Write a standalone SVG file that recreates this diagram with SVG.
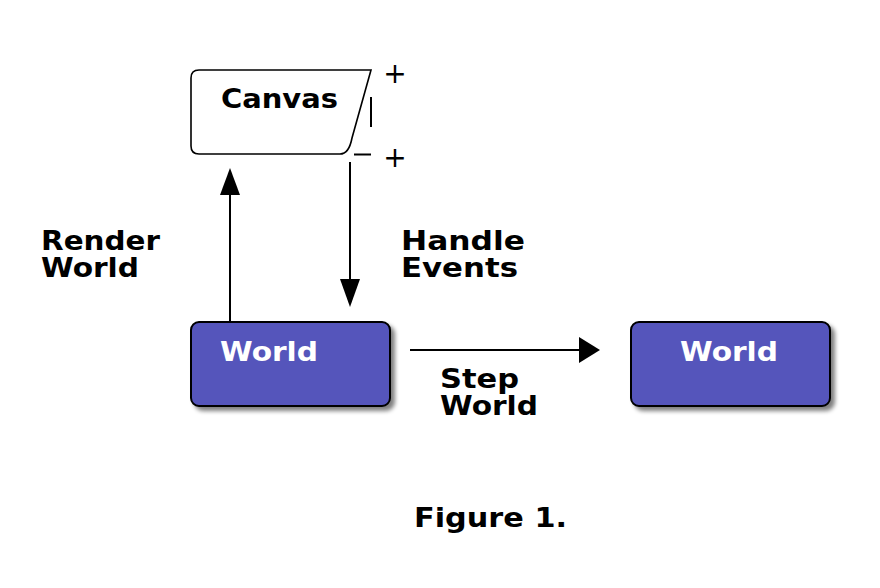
<svg xmlns="http://www.w3.org/2000/svg" width="880" height="588" viewBox="0 0 880 588">
<style>
.lbl{font-family:"DejaVu Sans","Liberation Sans",sans-serif;font-weight:bold;font-size:27px;fill:#000}
.wl{fill:#fff}
.box{fill:#5555bb;stroke:#000;stroke-width:2}
.ln{stroke:#000;stroke-width:2;fill:none}
.pl{font-family:"DejaVu Sans",sans-serif;font-size:28px;fill:#000}
</style>
<defs>
<filter id="sh" x="-10%" y="-20%" width="130%" height="150%">
<feGaussianBlur in="SourceAlpha" stdDeviation="2"/>
<feOffset dx="4" dy="4" result="b"/>
<feComponentTransfer><feFuncA type="linear" slope="0.5"/></feComponentTransfer>
<feMerge><feMergeNode/><feMergeNode in="SourceGraphic"/></feMerge>
</filter>
</defs>
<rect width="880" height="588" fill="#fff"/>
<g id="canvas">
<path d="M199,70 L371,70 L352,138 Q349,154 340,154 L199,154 Q191,154 191,146 L191,78 Q191,70 199,70 Z" fill="#fff" stroke="#000" stroke-width="1.6"/>
<text class="lbl" x="221" y="108" textLength="117" lengthAdjust="spacingAndGlyphs">Canvas</text>
<line class="ln" x1="371" y1="97" x2="371" y2="127"/>
<line class="ln" x1="354" y1="154.5" x2="371" y2="154.5"/>
<text class="pl" x="395" y="83" text-anchor="middle">+</text>
<text class="pl" x="395" y="167" text-anchor="middle">+</text>
</g>
<g id="world1">
<rect class="box" x="191" y="322" width="199" height="84" rx="8" filter="url(#sh)"/>
<text class="lbl wl" x="220" y="361" textLength="98" lengthAdjust="spacingAndGlyphs">World</text>
</g>
<g id="world2">
<rect class="box" x="631" y="322" width="199" height="84" rx="8" filter="url(#sh)"/>
<text class="lbl wl" x="680" y="361" textLength="98" lengthAdjust="spacingAndGlyphs">World</text>
</g>
<g id="connectors">
<line class="ln" x1="230" y1="322" x2="230" y2="194"/>
<polygon points="230,168 220,195 240,195"/>
<line class="ln" x1="350" y1="162" x2="350" y2="280"/>
<polygon points="350,307 340,279 360,279"/>
<line class="ln" x1="410" y1="350" x2="581" y2="350"/>
<polygon points="600,350 579,337 579,363"/>
</g>
<g id="labels">
<text class="lbl"><tspan x="41" y="250" textLength="119" lengthAdjust="spacingAndGlyphs">Render</tspan><tspan x="41" y="277" textLength="98" lengthAdjust="spacingAndGlyphs">World</tspan></text>
<text class="lbl"><tspan x="401" y="250" textLength="124" lengthAdjust="spacingAndGlyphs">Handle</tspan><tspan x="401" y="277" textLength="117" lengthAdjust="spacingAndGlyphs">Events</tspan></text>
<text class="lbl"><tspan x="440" y="388" textLength="79" lengthAdjust="spacingAndGlyphs">Step</tspan><tspan x="440" y="415" textLength="98" lengthAdjust="spacingAndGlyphs">World</tspan></text>
<text class="lbl" x="414" y="527" textLength="153" lengthAdjust="spacingAndGlyphs">Figure 1.</text>
</g>
</svg>
